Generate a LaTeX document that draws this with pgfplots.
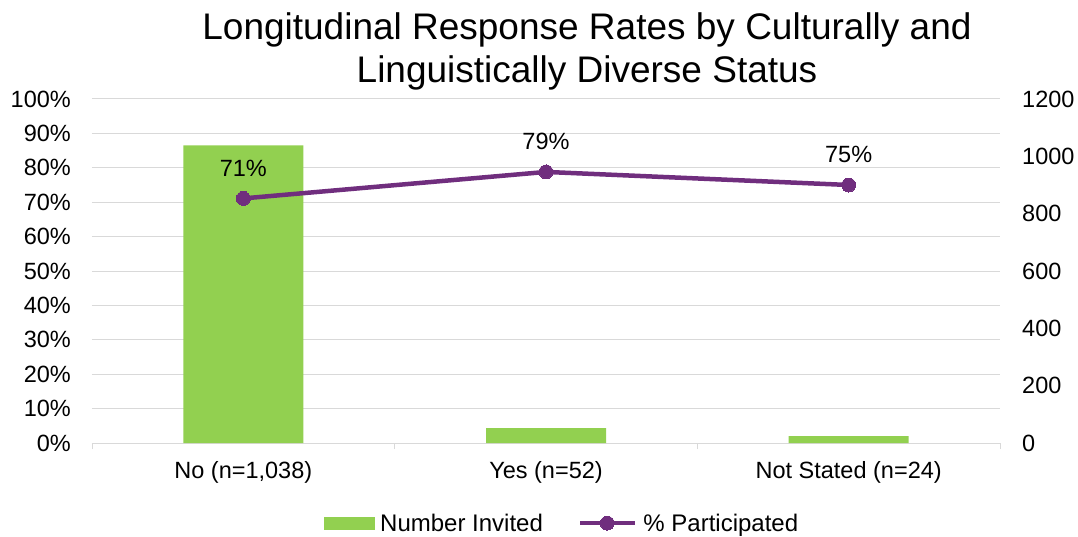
\documentclass[border=0pt]{standalone}
\usepackage{pgfplots}
\pgfplotsset{compat=1.18}
\usepackage{fontspec}
\setmainfont{Liberation Sans}
\definecolor{barg}{RGB}{146,208,80}
\definecolor{linep}{RGB}{112,46,126}
\definecolor{gridc}{RGB}{217,217,217}
\pgfplotsset{
  widelineleg/.style={legend image code/.code={\draw[mark repeat=2, mark phase=2, ##1] plot coordinates {(0pt,0pt) (27pt,0pt) (55pt,0pt)};}},
  barleg/.style={legend image code/.code={\fill[barg] (0pt,-6pt) rectangle (50pt,6pt);}},
  base/.style={
    at={(92pt,93pt)}, anchor=south west,
    width=908pt, height=344pt, scale only axis,
    xmin=-0.5, xmax=2.5,
    major tick length=0pt,
    tick label style={font=\fontsize{23.5}{28}\selectfont},
    /pgf/number format/assume math mode=true,
  },
}
\begin{document}
\begin{tikzpicture}
\path[use as bounding box] (0,0) rectangle (1078pt,536pt);
\node[align=center, font=\fontsize{37}{43}\selectfont, anchor=center] at (587pt,485pt) {Longitudinal Response Rates by Culturally and\\Linguistically Diverse Status};
% percent axis with grid
\begin{axis}[base,
  ymin=0, ymax=1,
  hide x axis,
  axis y line*=left, y axis line style={draw=none},
  ytick={0,0.1,...,1.01},
  ymajorgrids, grid style={draw=gridc, line width=1pt},
  yticklabel={\pgfmathparse{\tick*100}\pgfmathprintnumber[fixed,precision=0]{\pgfmathresult}\%},
  yticklabel style={inner sep=0pt, xshift=-21pt},
]
\end{axis}
% bars on right axis
\begin{axis}[base,
  ymin=0, ymax=1200,
  xtick={0,1,2},
  xticklabels={No (n=1{,}038), Yes (n=52), Not Stated (n=24)},
  extra x ticks={-0.5,0.5,1.5,2.5},
  extra x tick labels={},
  extra x tick style={major tick length=6pt, tick align=outside, tick style={draw=gridc, line width=1pt}},
  ytick={0,200,...,1200},
  /pgf/number format/1000 sep={},
  axis x line*=bottom, axis y line*=right,
  x axis line style={draw=gridc, line width=1pt, -},
  y axis line style={draw=none},
  xticklabel style={inner sep=0pt, yshift=-18pt},
  yticklabel style={inner sep=0pt, xshift=22pt},
]
\addplot[ybar, bar width=120pt, fill=barg, draw=none] coordinates {(0,1038) (1,52) (2,24)};
\end{axis}
% line on hidden axis
\begin{axis}[base,
  ymin=0, ymax=1,
  hide axis,
  legend columns=2,
  legend style={at={(0.5165,-0.233)}, anchor=center, draw=none, fill=none,
    font=\fontsize{24}{28}\selectfont, inner sep=0pt,
    nodes={inner sep=0pt}, column sep=6pt,
    /tikz/every even column/.append style={column sep=35pt}},
]
\addlegendimage{barleg}
\addlegendentry{Number Invited}
\addplot[color=linep, line width=4.5pt, mark=*, mark size=7pt, mark options={fill=linep, line width=0pt},
  nodes near coords,
  point meta=explicit symbolic,
  every node near coord/.append style={font=\fontsize{23.5}{28}\selectfont, text=black, anchor=base, inner sep=0pt, yshift=22pt},
  widelineleg
] coordinates {(0,0.711) [71\%] (1,0.788) [79\%] (2,0.75) [75\%]};
\addlegendentry{\% Participated}
\end{axis}
\end{tikzpicture}
\end{document}
